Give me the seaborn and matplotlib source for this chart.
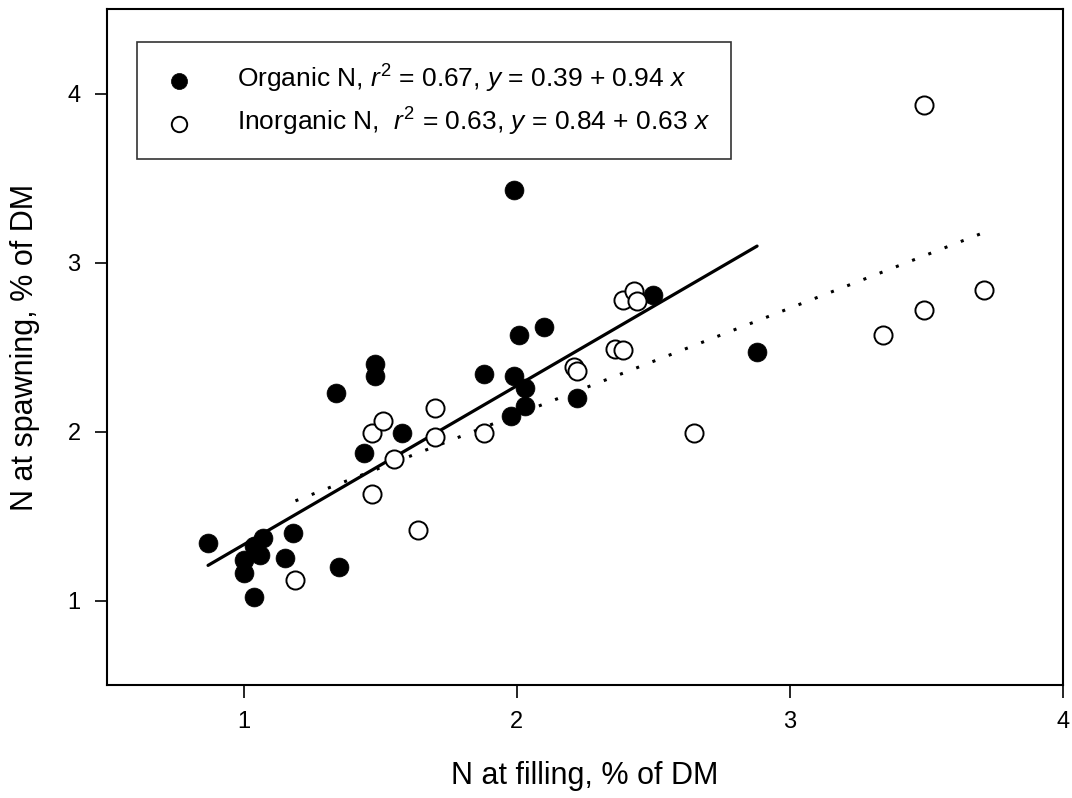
import matplotlib
matplotlib.use("Agg")
import matplotlib.pyplot as plt
import seaborn as sns
import numpy as np
import pandas as pd

# ---- data ----
organic_x = [0.87, 1.07, 1.04, 1.06, 1.00, 1.00, 1.04, 1.18, 1.15, 1.35,
             1.44, 1.58, 1.48, 1.48, 1.34, 1.99, 2.10, 2.01, 1.88, 1.99,
             2.03, 2.03, 1.98, 2.22, 2.50, 2.88]
organic_y = [1.34, 1.37, 1.32, 1.27, 1.24, 1.16, 1.02, 1.40, 1.25, 1.20,
             1.87, 1.99, 2.40, 2.33, 2.23, 3.43, 2.62, 2.57, 2.34, 2.33,
             2.26, 2.15, 2.09, 2.20, 2.81, 2.47]

inorganic_x = [1.19, 1.47, 1.64, 1.55, 1.47, 1.51, 1.70, 1.70, 1.88, 2.21,
               2.22, 2.39, 2.43, 2.44, 2.36, 2.39, 2.65, 3.49, 3.71, 3.49,
               3.34]
inorganic_y = [1.12, 1.63, 1.42, 1.84, 1.99, 2.06, 2.14, 1.97, 1.99, 2.38,
               2.36, 2.78, 2.83, 2.77, 2.49, 2.48, 1.99, 3.93, 2.84, 2.72,
               2.57]

organic_fit = (0.39, 0.94)    # intercept, slope
inorganic_fit = (0.84, 0.63)

organic_label = r"Organic N, $r^2$ = 0.67, $y$ = 0.39 + 0.94 $x$"
inorganic_label = r"Inorganic N,  $r^2$ = 0.63, $y$ = 0.84 + 0.63 $x$"

x_ticks = [1, 2, 3, 4]
y_ticks = [1, 2, 3, 4]
x_label = "N at filling, % of DM"
y_label = "N at spawning, % of DM"

# ---- style ----
sns.set_theme(style="white")
plt.rcParams['font.family'] = ['Liberation Sans', 'DejaVu Sans']
plt.rcParams['mathtext.fontset'] = 'custom'
plt.rcParams['mathtext.rm'] = 'Liberation Sans'
plt.rcParams['mathtext.it'] = 'Liberation Sans:italic'

fig = plt.figure(figsize=(10.72, 7.98), dpi=100)
ax = fig.add_axes([0.0998, 0.1416, 0.8918, 0.8471])

org = pd.DataFrame({"x": organic_x, "y": organic_y})
ino = pd.DataFrame({"x": inorganic_x, "y": inorganic_y})

# regression lines over each data range
ox = np.array([min(organic_x), max(organic_x)])
ix = np.array([min(inorganic_x), max(inorganic_x)])
org_line = pd.DataFrame({"x": ox, "y": organic_fit[0] + organic_fit[1] * ox})
ino_line = pd.DataFrame({"x": ix, "y": inorganic_fit[0] + inorganic_fit[1] * ix})

sns.lineplot(data=org_line, x="x", y="y", ax=ax, color="black", lw=2.3,
             legend=False, zorder=2)
sns.lineplot(data=ino_line, x="x", y="y", ax=ax, color="black", lw=2.2,
             linestyle=(0, (1, 4.7)), legend=False, zorder=2)

sns.scatterplot(data=org, x="x", y="y", ax=ax, s=185, color="black",
                edgecolor="black", linewidth=0.5, zorder=3, label=organic_label)
sns.scatterplot(data=ino, x="x", y="y", ax=ax, s=170, facecolor="white",
                edgecolor="black", linewidth=1.4, zorder=4, label=inorganic_label)

ax.set_xlim(0.5, 4)
ax.set_ylim(0.5, 4.5)
ax.set_xticks(x_ticks)
ax.set_yticks(y_ticks)
ax.set_xticklabels([str(t) for t in x_ticks])
ax.set_yticklabels([str(t) for t in y_ticks])
ax.tick_params(axis="both", direction="out", length=9, width=1.2,
               color="black", labelsize=17, labelcolor="black", pad=10,
               bottom=True, left=True)
ax.set_xlabel(x_label, fontsize=22, color="black", labelpad=20)
ax.set_ylabel(y_label, fontsize=22, color="black", labelpad=20)

for sp in ax.spines.values():
    sp.set_visible(True)
    sp.set_color("black")
    sp.set_linewidth(1.5)

leg = ax.legend(loc="upper left", bbox_to_anchor=(0.031, 0.951),
                borderaxespad=0, fontsize=19, frameon=True, fancybox=False,
                edgecolor="black", handletextpad=1.4, borderpad=0.8,
                labelspacing=0.4, handlelength=1.6, markerscale=0.85)
leg.get_frame().set_linewidth(1.2)
for t in leg.get_texts():
    t.set_color("black")

fig.savefig("out.png", dpi=100)
